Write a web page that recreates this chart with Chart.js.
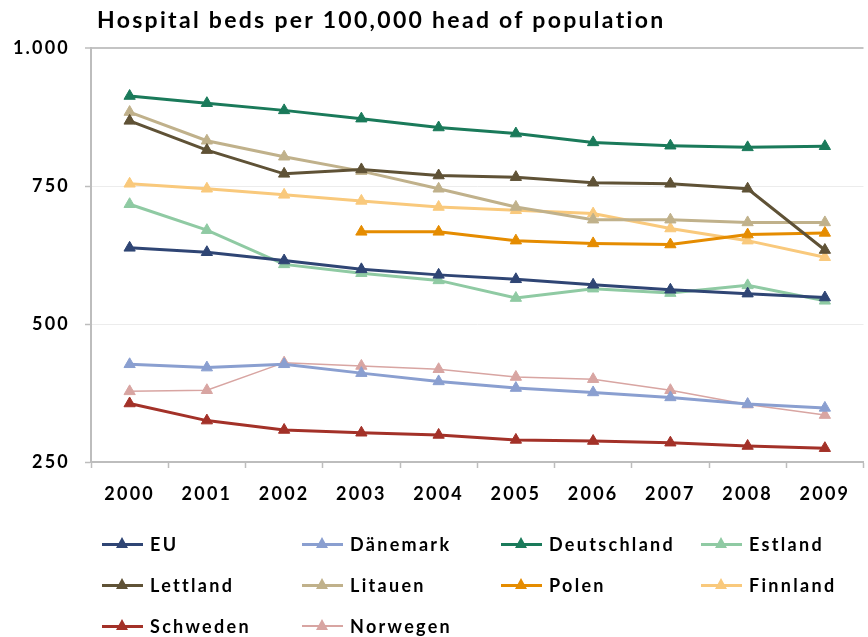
<!DOCTYPE html>
<html>
<head>
<meta charset="utf-8">
<script src="https://cdn.jsdelivr.net/npm/chart.js@4/dist/chart.umd.min.js"></script>
<style>
  html, body { margin: 0; padding: 0; background: #fff; overflow: hidden; width: 868px; height: 637px; }
  #wrap { position: relative; width: 868px; height: 637px; overflow: hidden; }
  #c { position: absolute; left: 0; top: 0; }
  #title { position: absolute; left: 97px; top: 5px; font-family: Lato, sans-serif; font-weight: 700; font-size: 23px; letter-spacing: 2.3px; color: #000; white-space: nowrap; }
  .item { position: absolute; height: 20px; display: flex; align-items: center; font-family: Lato, sans-serif; font-weight: 700; font-size: 18px; letter-spacing: 2.3px; color: #000; white-space: nowrap; }
  .sample { position: relative; width: 41px; height: 3px; margin-right: 7px; }
  .tri { position: absolute; left: 14px; top: -6px; width: 0; height: 0; border-left: 6.5px solid transparent; border-right: 6.5px solid transparent; border-bottom-width: 11px; border-bottom-style: solid; }
</style>
</head>
<body>
<div id="wrap">
  <canvas id="c" width="871" height="637"></canvas>
  <div id="title">Hospital beds per 100,000 head of population</div>
  <div id="legend"></div>
</div>
<script>
const years = ['2000','2001','2002','2003','2004','2005','2006','2007','2008','2009'];
const yTicks = [250, 500, 750, 1000];

const EU          = [638, 630, 615, 599, 589, 581, 571, 562, 555, 548];
const Daenemark   = [427, 421, 427, 411, 396, 384, 376, 367, 355, 348];
const Deutschland = [913, 900, 887, 872, 856, 845, 829, 823, 820, 822];
const Estland     = [717, 670, 608, 592, 579, 547, 564, 556, 570, 542];
const Lettland    = [868, 815, 772, 780, 769, 766, 756, 754, 745, 634];
const Litauen     = [884, 832, 803, 777, 745, 712, 689, 689, 684, 684];
const Polen       = [null, null, null, 667, 667, 651, 646, 644, 662, 665];
const Finnland    = [754, 745, 734, 723, 712, 706, 700, 673, 651, 621];
const Schweden    = [356, 325, 308, 303, 299, 290, 288, 285, 279, 275];
const Norwegen    = [378, 380, 430, 424, 418, 404, 400, 380, 354, 335];

const seriesNames  = ['EU','Dänemark','Deutschland','Estland','Lettland','Litauen','Polen','Finnland','Schweden','Norwegen'];
const seriesData   = [EU, Daenemark, Deutschland, Estland, Lettland, Litauen, Polen, Finnland, Schweden, Norwegen];
const seriesColors = ['#2f4574','#8a9fd0','#1a7a5a','#8fcaa3','#5f5236','#c0b18b','#e58c00','#f9c97c','#a33128','#d8a5a2'];
const seriesWidths = [3,3,3,3,3,3,3,3,3,1.5];

const datasets = seriesNames.map((n, i) => ({
  label: n,
  data: seriesData[i],
  borderColor: seriesColors[i],
  backgroundColor: seriesColors[i],
  borderWidth: seriesWidths[i],
  pointStyle: 'triangle',
  pointRadius: 6.5,
  pointBorderWidth: 1,
  pointBackgroundColor: seriesColors[i],
  pointBorderColor: seriesColors[i],
  tension: 0,
  fill: false
}));

const spacing = {
  id: 'spacing',
  beforeLayout(chart) { chart.ctx.letterSpacing = '2.2px'; },
  beforeDraw(chart) { chart.ctx.letterSpacing = '2.2px'; }
};

new Chart(document.getElementById('c'), {
  type: 'line',
  data: { labels: years, datasets },
  plugins: [spacing],
  options: {
    responsive: false,
    animation: false,
    devicePixelRatio: 1,
    layout: { padding: { top: 48, left: 0, right: 0, bottom: 135 } },
    plugins: { legend: { display: false }, title: { display: false }, tooltip: { enabled: false } },
    scales: {
      x: {
        offset: true,
        afterFit(s) { s.height = 40; },
        grid: { offset: true, drawOnChartArea: false, drawTicks: true, tickLength: 6, tickColor: '#bdbdbd', tickWidth: 1.5 },
        border: { color: '#bdbdbd', width: 2 },
        ticks: { padding: 15, color: '#000', font: { family: 'Lato', weight: 'bold', size: 18 } }
      },
      y: {
        min: 250, max: 1000,
        afterFit(s) { s.width = 91; },
        afterBuildTicks(s) { s.ticks = yTicks.map(v => ({ value: v })); },
        grid: {
          color: ctx => (ctx.tick && ctx.tick.value === 1000) ? '#c4c4c4' : '#ececec',
          lineWidth: ctx => (ctx.tick && ctx.tick.value === 1000) ? 2 : 1,
          drawTicks: true, tickLength: 6, tickColor: '#bdbdbd', tickWidth: 1.5
        },
        border: { color: '#bdbdbd', width: 2 },
        ticks: {
          padding: 15, color: '#000', font: { family: 'Lato', weight: 'bold', size: 18 },
          callback: v => v.toLocaleString('de-DE')
        }
      }
    }
  }
});

const legendCols = [102, 302, 501, 701];
const legendRows = [544, 585, 626];
const legend = document.getElementById('legend');
seriesNames.forEach((n, i) => {
  const item = document.createElement('div');
  item.className = 'item';
  item.style.left = legendCols[i % 4] + 'px';
  item.style.top = (legendRows[Math.floor(i / 4)] - 10) + 'px';
  const sample = document.createElement('span');
  sample.className = 'sample';
  sample.style.background = seriesColors[i];
  sample.style.height = (seriesWidths[i] < 2 ? 2 : 3) + 'px';
  const tri = document.createElement('span');
  tri.className = 'tri';
  tri.style.borderBottomColor = seriesColors[i];
  sample.appendChild(tri);
  const txt = document.createElement('span');
  txt.textContent = n;
  item.appendChild(sample);
  item.appendChild(txt);
  legend.appendChild(item);
});
</script>
</body>
</html>
